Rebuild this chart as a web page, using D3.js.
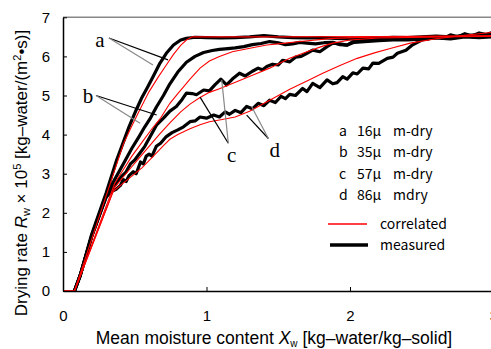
<!DOCTYPE html>
<html>
<head>
<meta charset="utf-8">
<style>
  body { margin: 0; background: #fff; }
  .tick text { font: 15px "Liberation Sans", Arial, sans-serif; fill: #000; }
  .axis path, .axis line { stroke: #000; }
  .measured { fill: none; stroke: #000; stroke-width: 3.2; stroke-linejoin: round; }
  .correlated { fill: none; stroke: #f00; stroke-width: 1.1; }
  .tag { font: 21px "Liberation Serif", "Times New Roman", serif; }
  .legend text { font: 14px "Noto Sans CJK JP", sans-serif; }
</style>
</head>
<body>
<svg width="491" height="349"></svg>
<script src="https://d3js.org/d3.v7.min.js"></script>
<script>
// measured curves [X_w, R_w]
const measuredA = [[0.08,0],[0.12,0.4],[0.2,1.45],[0.3,2.5],[0.374,3.35],[0.42,3.8],[0.46,4.2],[0.51,4.63],[0.55,4.95],[0.59,5.22],[0.63,5.5],[0.676,5.83],[0.72,6.08],[0.77,6.29],[0.82,6.42],[0.86,6.46],[0.92,6.49],[1.0,6.48],[1.1,6.47],[1.2,6.48],[1.3,6.5],[1.4,6.53],[1.5,6.5],[1.6,6.48],[1.7,6.47],[1.8,6.48],[1.9,6.46],[2.0,6.45],[2.1,6.46],[2.2,6.47],[2.3,6.49],[2.4,6.48],[2.5,6.5],[2.6,6.52],[2.7,6.5],[2.8,6.53],[2.9,6.56],[3.0,6.52]];
const measuredB = [[0.08,0],[0.12,0.4],[0.2,1.4],[0.3,2.45],[0.36,2.85],[0.42,3.25],[0.48,3.65],[0.53,3.95],[0.57,4.2],[0.606,4.4],[0.65,4.7],[0.7,5.0],[0.745,5.3],[0.8,5.6],[0.86,5.85],[0.92,6.0],[0.98,6.1],[1.04,6.15],[1.09,6.18],[1.15,6.2],[1.2,6.22],[1.26,6.25],[1.32,6.3],[1.38,6.33],[1.44,6.38],[1.5,6.35],[1.55,6.3],[1.6,6.32],[1.65,6.36],[1.7,6.34],[1.76,6.32],[1.82,6.35],[1.88,6.36],[1.93,6.3],[1.98,6.29],[2.03,6.36],[2.1,6.38],[2.2,6.4],[2.3,6.42],[2.4,6.42],[2.5,6.44],[2.6,6.47],[2.7,6.45],[2.8,6.5],[2.9,6.48],[3.0,6.5]];
const measuredC = [[0.08,0],[0.12,0.4],[0.2,1.4],[0.3,2.4],[0.36,2.7],[0.4,2.9],[0.44,3.05],[0.47,3.25],[0.5,3.35],[0.54,3.55],[0.57,3.7],[0.6,3.9],[0.63,4.1],[0.653,4.25],[0.7,4.42],[0.745,4.6],[0.79,4.72],[0.83,4.9],[0.86,5.06],[0.9,5.05],[0.93,5.02],[0.98,5.14],[1.02,5.12],[1.06,5.28],[1.1,5.42],[1.14,5.27],[1.18,5.42],[1.23,5.57],[1.27,5.5],[1.32,5.62],[1.36,5.7],[1.39,5.66],[1.42,5.74],[1.46,5.8],[1.5,5.78],[1.53,5.9],[1.58,5.86],[1.62,5.98],[1.66,6.0],[1.7,6.08],[1.74,6.16],[1.79,6.12],[1.84,6.25],[1.88,6.34],[1.93,6.32],[1.98,6.29],[2.03,6.4],[2.1,6.42],[2.2,6.45],[2.3,6.44],[2.4,6.47],[2.5,6.45],[2.6,6.48],[2.7,6.5],[2.8,6.52],[2.9,6.5],[3.0,6.55]];
const measuredD = [[0.08,0],[0.12,0.4],[0.2,1.4],[0.3,2.4],[0.34,2.55],[0.37,2.6],[0.4,2.7],[0.42,2.85],[0.44,2.8],[0.46,2.95],[0.49,3.05],[0.51,3.0],[0.54,3.3],[0.56,3.25],[0.58,3.45],[0.6,3.5],[0.62,3.45],[0.65,3.7],[0.68,3.78],[0.72,3.95],[0.76,4.05],[0.8,4.12],[0.84,4.2],[0.885,4.33],[0.92,4.35],[0.955,4.45],[1.0,4.42],[1.05,4.5],[1.09,4.45],[1.13,4.58],[1.16,4.52],[1.2,4.62],[1.24,4.56],[1.28,4.72],[1.32,4.66],[1.36,4.8],[1.4,4.74],[1.44,4.88],[1.48,4.82],[1.52,4.98],[1.55,4.92],[1.58,5.03],[1.62,5.0],[1.67,5.18],[1.7,5.1],[1.74,5.31],[1.79,5.2],[1.84,5.4],[1.88,5.3],[1.91,5.33],[1.95,5.48],[1.98,5.42],[2.02,5.58],[2.05,5.55],[2.09,5.7],[2.13,5.68],[2.16,5.83],[2.2,5.82],[2.26,5.95],[2.3,5.98],[2.33,6.08],[2.39,6.16],[2.43,6.28],[2.46,6.34],[2.5,6.42],[2.55,6.45],[2.6,6.5],[2.65,6.46],[2.7,6.55],[2.75,6.5],[2.8,6.58],[2.85,6.52],[2.9,6.6],[2.95,6.56],[3.0,6.62]];

// correlated curves
const correlatedA = [[0,0],[0.08,0],[0.42,3.75],[0.47,4.15],[0.53,4.6],[0.6,5.1],[0.66,5.45],[0.72,5.78],[0.77,6.05],[0.82,6.28],[0.86,6.42],[0.9,6.5],[1.5,6.5],[2.2,6.51],[3.0,6.53]];
const correlatedB = [[0,0],[0.08,0],[0.36,2.75],[0.42,3.1],[0.48,3.45],[0.55,3.8],[0.62,4.15],[0.676,4.4],[0.745,4.8],[0.8,5.05],[0.84,5.22],[0.885,5.42],[0.955,5.7],[1.02,5.88],[1.09,6.0],[1.18,6.12],[1.32,6.22],[1.42,6.29],[1.55,6.34],[1.65,6.38],[1.88,6.46],[2.2,6.5],[3.0,6.52]];
const correlatedC = [[0,0],[0.08,0],[0.36,2.65],[0.45,3.05],[0.53,3.4],[0.6,3.7],[0.67,4.0],[0.745,4.3],[0.82,4.58],[0.885,4.78],[0.955,4.95],[1.02,5.08],[1.09,5.17],[1.21,5.35],[1.32,5.52],[1.44,5.7],[1.58,5.95],[1.7,6.12],[1.8,6.25],[1.88,6.34],[2.0,6.42],[2.2,6.47],[3.0,6.52]];
const correlatedD = [[0,0],[0.08,0],[0.35,2.55],[0.45,2.85],[0.55,3.15],[0.63,3.45],[0.7,3.72],[0.745,3.88],[0.8,4.0],[0.885,4.15],[0.955,4.25],[1.02,4.33],[1.1,4.38],[1.2,4.45],[1.3,4.6],[1.44,4.88],[1.58,5.16],[1.7,5.37],[1.81,5.57],[1.93,5.77],[2.05,5.95],[2.17,6.09],[2.28,6.2],[2.42,6.34],[2.6,6.45],[2.8,6.54],[3.0,6.62]];

const seriesNames = ["a", "b", "c", "d"];
const sizes = ["16μ", "35μ", "57μ", "86μ"];
const methods = ["m-dry", "m-dry", "m-dry", "mdry"];
const xTicks = [0, 1, 2, 3];
const yTicks = [0, 1, 2, 3, 4, 5, 6, 7];

// curve labels: label point, start of leaders, end on measured, end on correlated
const tagPos = [[0.258, 6.42], [0.174, 4.99], [1.176, 3.47], [1.475, 3.6]];
const tagFrom = [[0.32, 6.47], [0.23, 5.0], [1.152, 3.78], [1.431, 3.9]];
const tagBlack = [[0.732, 5.91], [0.653, 4.5], [0.955, 4.96], [1.28, 4.5]];
const tagGray = [[0.627, 5.78], [0.537, 4.29], [1.106, 5.4], [1.315, 4.71]];

const svg = d3.select("svg");
const x = d3.scaleLinear().domain([0, 3]).range([63, 493.5]);
const y = d3.scaleLinear().domain([0, 7]).range([291, 17.3]);

// top frame
svg.append("line")
    .attr("x1", x(0)).attr("x2", x(3))
    .attr("y1", y(7)).attr("y2", y(7))
    .attr("stroke", "#888").attr("stroke-width", 1.5);

const line = d3.line().x(d => x(d[0])).y(d => y(d[1]));

const measured = [measuredA, measuredB, measuredC, measuredD];
const correlated = [correlatedA, correlatedB, correlatedC, correlatedD];

svg.selectAll(".measured").data(measured).enter().append("path")
    .attr("class", "measured").attr("d", line);
svg.selectAll(".correlated").data(correlated).enter().append("path")
    .attr("class", "correlated").attr("d", line);

// axes
svg.append("g").attr("class", "axis")
    .attr("transform", "translate(0," + y(0) + ")")
    .call(d3.axisBottom(x).tickValues(xTicks).tickFormat(d3.format("d"))
        .tickSizeInner(-4).tickSizeOuter(0).tickPadding(19))
    .call(g => g.select(".domain").attr("stroke-width", 1.5));
svg.append("g").attr("class", "axis")
    .attr("transform", "translate(" + x(0) + ",0)")
    .call(d3.axisLeft(y).tickValues(yTicks).tickFormat(d3.format("d"))
        .tickSizeInner(-4).tickSizeOuter(0).tickPadding(13))
    .call(g => g.select(".domain").attr("stroke-width", 1.5));

// leader lines and tags
seriesNames.forEach((name, i) => {
    svg.append("line")
        .attr("x1", x(tagFrom[i][0])).attr("y1", y(tagFrom[i][1]))
        .attr("x2", x(tagBlack[i][0])).attr("y2", y(tagBlack[i][1]))
        .attr("stroke", "#000").attr("stroke-width", 1.2);
    svg.append("line")
        .attr("x1", x(tagFrom[i][0])).attr("y1", y(tagFrom[i][1]))
        .attr("x2", x(tagGray[i][0])).attr("y2", y(tagGray[i][1]))
        .attr("stroke", "#888").attr("stroke-width", 1.2);
    svg.append("text").attr("class", "tag")
        .attr("x", x(tagPos[i][0])).attr("y", y(tagPos[i][1]))
        .attr("text-anchor", "middle").attr("dominant-baseline", "central")
        .text(name);
});

// legend
const legend = svg.append("g").attr("class", "legend");
seriesNames.forEach((name, i) => {
    const row = legend.append("text").attr("y", 136 + i * 21.4);
    row.append("tspan").attr("x", 339).text(name);
    row.append("tspan").attr("x", 357).text(sizes[i]);
    row.append("tspan").attr("x", 393).text(methods[i]);
});
legend.append("line").attr("x1", 328).attr("x2", 367).attr("y1", 224).attr("y2", 224)
    .attr("stroke", "#f00").attr("stroke-width", 1.3);
legend.append("text").attr("x", 380).attr("y", 229).text("correlated");
legend.append("line").attr("x1", 330).attr("x2", 368).attr("y1", 245).attr("y2", 245)
    .attr("stroke", "#000").attr("stroke-width", 3.5);
legend.append("text").attr("x", 380).attr("y", 250).text("measured");

// axis titles
const xt = svg.append("text").attr("x", 274).attr("y", 344)
    .attr("text-anchor", "middle")
    .style("font", "17.5px 'Liberation Sans', Arial, sans-serif");
xt.append("tspan").text("Mean moisture content ");
xt.append("tspan").style("font-style", "italic").text("X");
xt.append("tspan").attr("dy", 3).style("font-size", "10px").text("w");
xt.append("tspan").attr("dy", -3).text(" [kg\u2013water/kg\u2013solid]");

const yt = svg.append("text")
    .attr("transform", "translate(27,173) rotate(-90)")
    .attr("text-anchor", "middle")
    .style("font", "17px 'Liberation Sans', Arial, sans-serif");
yt.append("tspan").text("Drying rate ");
yt.append("tspan").style("font-style", "italic").text("R");
yt.append("tspan").attr("dy", 3).style("font-size", "11px").text("w");
yt.append("tspan").attr("dy", -3).text(" \u00d7 10");
yt.append("tspan").attr("dy", -6).style("font-size", "11px").text("5");
yt.append("tspan").attr("dy", 6).text(" [kg\u2013water/(m");
yt.append("tspan").attr("dy", -6).style("font-size", "11px").text("2");
yt.append("tspan").attr("dy", 6).text("\u2022s)]");
</script>
</body>
</html>
